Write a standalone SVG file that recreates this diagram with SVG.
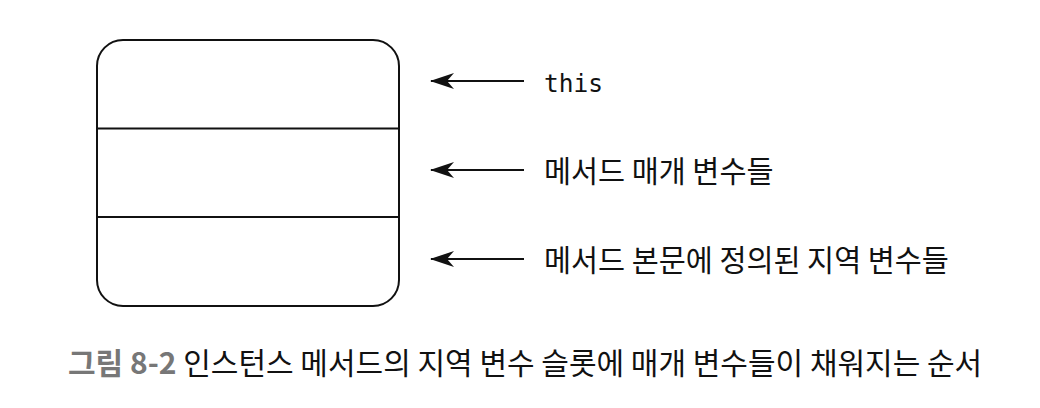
<svg xmlns="http://www.w3.org/2000/svg" width="1040" height="408" viewBox="0 0 1040 408">
<style>
.box{fill:#fff;stroke:#111;stroke-width:2}
.div{stroke:#111;stroke-width:2}
.conn{stroke:#111;stroke-width:2;fill:none}
.lbl{font-family:"Noto Sans CJK KR","Noto Sans",sans-serif;font-size:29.4px;fill:#111}
.mono{font-family:"DejaVu Sans Mono","Liberation Mono",monospace;font-size:24.5px;fill:#111}
.cap{font-family:"Noto Sans CJK KR","Noto Sans",sans-serif;font-size:30px;fill:#111}
</style>
<defs>
<marker id="ah" markerWidth="24" markerHeight="16" refX="23" refY="8" orient="auto" markerUnits="userSpaceOnUse">
<path d="M24,8 L0,0 L7,8 L0,16 Z" fill="#111"/>
</marker>
</defs>
<rect width="1040" height="408" fill="#fff"/>
<g id="stack">
<rect class="box" x="97" y="40" width="302" height="266" rx="26" ry="26"/>
<line class="div" x1="97" y1="128.5" x2="399" y2="128.5"/>
<line class="div" x1="97" y1="217" x2="399" y2="217"/>
</g>
<g id="connectors">
<line class="conn" x1="524" y1="81" x2="431" y2="81" marker-end="url(#ah)"/>
<line class="conn" x1="524" y1="170" x2="431" y2="170" marker-end="url(#ah)"/>
<line class="conn" x1="524" y1="259" x2="431" y2="259" marker-end="url(#ah)"/>
</g>
<g id="label-this"><text class="mono" x="544" y="92">this</text></g>
<g id="label-params"><text class="lbl" x="544" y="182">메서드 매개 변수들</text></g>
<g id="label-locals"><text class="lbl" x="544" y="271">메서드 본문에 정의된 지역 변수들</text></g>
<g id="caption"><text class="cap" x="68" y="374"><tspan font-weight="bold" fill="#777">그림 8-2</tspan> 인스턴스 메서드의 지역 변수 슬롯에 매개 변수들이 채워지는 순서</text></g>
</svg>
